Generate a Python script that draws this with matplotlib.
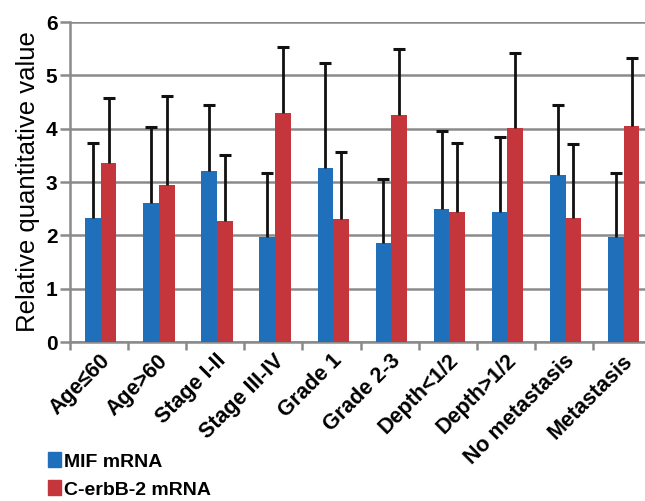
import numpy as np
import matplotlib
matplotlib.use("Agg")
import matplotlib.pyplot as plt
from matplotlib.patches import Patch

plt.rcParams['font.family'] = ['Liberation Sans', 'DejaVu Sans']

categories = ["Age≤60", "Age>60", "Stage I-II", "Stage III-IV", "Grade 1",
              "Grade 2-3", "Depth<1/2", "Depth>1/2", "No metastasis", "Metastasis"]
mif = [2.33, 2.60, 3.21, 1.97, 3.27, 1.86, 2.49, 2.43, 3.14, 1.97]
mif_top = [3.74, 4.04, 4.45, 3.17, 5.24, 3.06, 3.96, 3.85, 4.45, 3.17]
erb = [3.35, 2.94, 2.27, 4.29, 2.30, 4.26, 2.44, 4.02, 2.33, 4.05]
erb_top = [4.58, 4.62, 3.51, 5.53, 3.57, 5.49, 3.74, 5.41, 3.71, 5.32]

blue = "#1f6fba"
red = "#c5363c"

fig = plt.figure(figsize=(6.45, 5.01), dpi=100)
ax = fig.add_axes([70/645, 159/501, 581/645, 320/501])

x = np.arange(len(categories))
w = 0.27
xb = x - w/2 + 0.03
xr = x + w/2 + 0.03

ax.bar(xb, mif, w, color=blue, zorder=3)
ax.bar(xr, erb, w, color=red, zorder=3)

# one-sided (upper) error bars
for xs, lo, hi in [(xb, mif, mif_top), (xr, erb, erb_top)]:
    ax.vlines(xs, lo, hi, color="#111111", linewidth=2, zorder=4)
    ax.plot(xs, hi, linestyle="none", marker="_", markersize=8,
            markeredgewidth=2.2, color="#111111", zorder=4)

ax.set_xlim(-0.5, len(categories) - 0.5)
ax.set_ylim(0, 6)
ax.set_yticks(range(7))
ax.yaxis.grid(True, color="#8a8a8a", linewidth=1.8, zorder=0)
for s in ["top", "right"]:
    ax.spines[s].set_visible(False)
ax.spines["left"].set_color("#8a8a8a")
ax.spines["left"].set_linewidth(1.8)
ax.spines["bottom"].set_color("#8a8a8a")
ax.spines["bottom"].set_linewidth(1.8)

ax.set_xticks(np.arange(-0.5, len(categories), 1.0))
ax.set_xticklabels([])
ax.set_xticks(x, minor=True)
ax.set_xticklabels(categories, minor=True, rotation=45, ha="right",
                   rotation_mode="anchor", fontsize=15.5, fontweight="bold")
ax.tick_params(axis="x", which="minor", length=0, pad=6)
ax.tick_params(axis="x", which="major", length=6, width=1.8, color="#8a8a8a")
ax.tick_params(axis="y", length=7, width=1.8, color="#8a8a8a", labelsize=15, pad=2)
for t in ax.get_yticklabels():
    t.set_fontweight("bold")

ax.set_ylabel("Relative quantitative value", fontsize=18.5, labelpad=4)

handles = [Patch(color=blue, label="MIF mRNA"), Patch(color=red, label="C-erbB-2 mRNA")]
fig.legend(handles=handles, loc="lower left", bbox_to_anchor=(0.047, -0.03),
           frameon=False, handlelength=0.7, handleheight=0.8, handletextpad=0.15,
           labelspacing=0.5, prop=dict(weight="bold", size=14))

fig.savefig("out.png", dpi=100)
